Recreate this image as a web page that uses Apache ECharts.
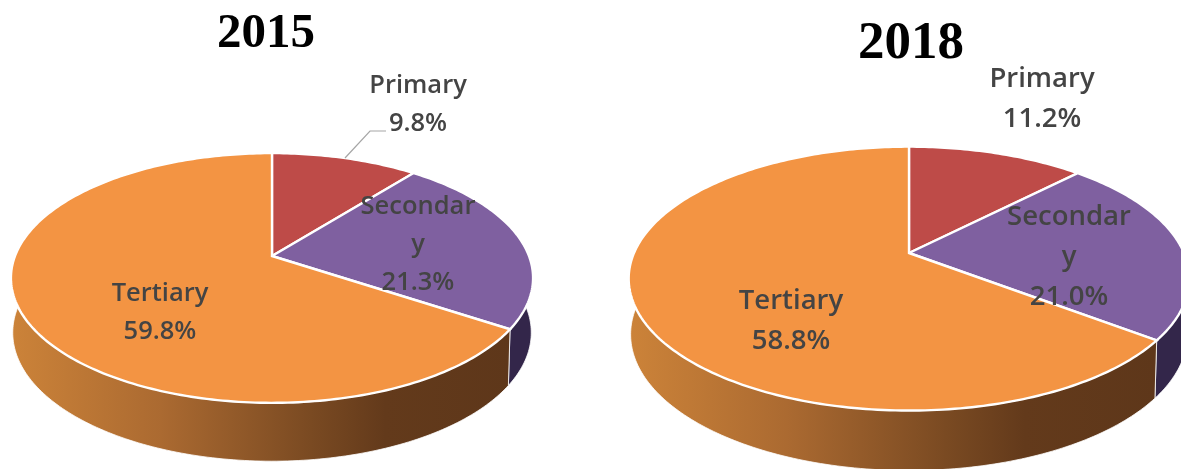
<!DOCTYPE html>
<html>
<head>
<meta charset="utf-8">
<style>
  html, body { margin: 0; padding: 0; background: #fff; }
  #chart { width: 1181px; height: 469px; filter: blur(0.45px); }
</style>
<script src="https://cdn.jsdelivr.net/npm/echarts@6/dist/echarts.min.js"></script>
</head>
<body>
<div id="chart"></div>
<script>
// data
const years = ["2015", "2018"];
const categories = ["Primary", "Secondar\ny", "Tertiary"];
const values2015 = [9.8, 21.3, 59.8];
const values2018 = [11.2, 21.0, 58.8];

const faceColors = ["#be4b48", "#7f60a0", "#f39443"];
const TEXT_COLOR = "#444444";

// apex = point where the slices meet, a/b = radii, k = perspective tilt, depth = wall height
const pie2015 = {
  apexX: 272, apexY: 256, a: 257, b: 121, k: 0.176, depth: 54,
  fontSize: 25.5, lineHeight: 38,
  labels: [[418, 105], [418, 245], [160, 313]],
};
const pie2018 = {
  apexX: 909, apexY: 253, a: 275, b: 127, k: 0.194, depth: 55,
  fontSize: 27.5, lineHeight: 40,
  labels: [[1042, 99], [1069, 257], [791, 321]],
};

const toRad = (deg) => (deg * Math.PI) / 180;

// projects a rim point at angle deg (0 = top, clockwise) to the page
const rimPoint = (pie, deg, drop) => {
  const u = Math.sin(toRad(deg));
  const v = Math.cos(toRad(deg));
  const w = 1 + pie.k * v;
  const scale = drop ? 0.993 : 1;
  return [
    pie.apexX + (scale * pie.a * u) / w,
    pie.apexY - (pie.b * v) / w + (drop ? pie.depth / Math.pow(w, 0.4) : 0),
  ];
};

const arc = (pie, from, to, drop) => {
  const pts = [];
  const steps = Math.max(2, Math.ceil(to - from));
  for (let i = 0; i <= steps; i++) {
    pts.push(rimPoint(pie, from + ((to - from) * i) / steps, drop));
  }
  return pts;
};

const wallFill = (index) => {
  if (index !== 2) return "#33264a";
  return new echarts.graphic.LinearGradient(0, 0, 1, 0, [
    { offset: 0, color: "#cc8339" },
    { offset: 0.3, color: "#ab6a31" },
    { offset: 0.6, color: "#7a4a22" },
    { offset: 0.75, color: "#633a1b" },
    { offset: 1, color: "#5e371a" },
  ]);
};

const pieSeries = (values, pie) => {
  const total = values.reduce((s, x) => s + x, 0);
  return {
    type: "custom",
    coordinateSystem: "none",
    silent: true,
    data: values.map((x) => [x]),
    renderItem: (params, api) => {
      const i = params.dataIndex;
      const before = values.slice(0, i).reduce((s, x) => s + x, 0);
      const from = (before / total) * 360;
      const to = from + (api.value(0) / total) * 360;
      const top = arc(pie, from, to, false);
      const bottom = arc(pie, from, to, true).reverse();
      return {
        type: "group",
        children: [
          {
            type: "polygon",
            z2: 1,
            shape: { points: top.concat(bottom) },
            style: { fill: wallFill(i), stroke: "#fff", lineWidth: 0.8 },
          },
          {
            type: "polygon",
            z2: 2,
            shape: { points: [[pie.apexX, pie.apexY]].concat(top) },
            style: { fill: faceColors[i], stroke: "#fff", lineWidth: 2.4 },
          },
          {
            type: "text",
            z2: 3,
            x: pie.labels[i][0],
            y: pie.labels[i][1],
            style: {
              text: categories[i] + "\n" + api.value(0).toFixed(1) + "%",
              fill: TEXT_COLOR,
              font: "600 " + pie.fontSize + 'px "Open Sans"',
              lineHeight: pie.lineHeight,
              align: "center",
              verticalAlign: "middle",
            },
          },
        ],
      };
    },
  };
};

const chart = echarts.init(document.getElementById("chart"), null, { renderer: "canvas" });

chart.setOption({
  animation: false,
  backgroundColor: "#fff",
  title: [
    {
      text: years[0],
      left: 261,
      top: 5,
      textAlign: "center",
      textStyle: { fontFamily: "Liberation Serif", fontWeight: "bold", fontSize: 49, color: "#000" },
    },
    {
      text: years[1],
      left: 906,
      top: 13,
      textAlign: "center",
      textStyle: { fontFamily: "Liberation Serif", fontWeight: "bold", fontSize: 53, color: "#000" },
    },
  ],
  // leader line of the 2015 Primary label
  graphic: [
    {
      type: "polyline",
      z: 10,
      shape: { points: [[345, 158], [370, 131], [386, 131]] },
      style: { stroke: "#a6a6a6", lineWidth: 1.2, fill: null },
    },
  ],
  series: [pieSeries(values2015, pie2015), pieSeries(values2018, pie2018)],
});

window.addEventListener("resize", () => chart.resize());
</script>
</body>
</html>
